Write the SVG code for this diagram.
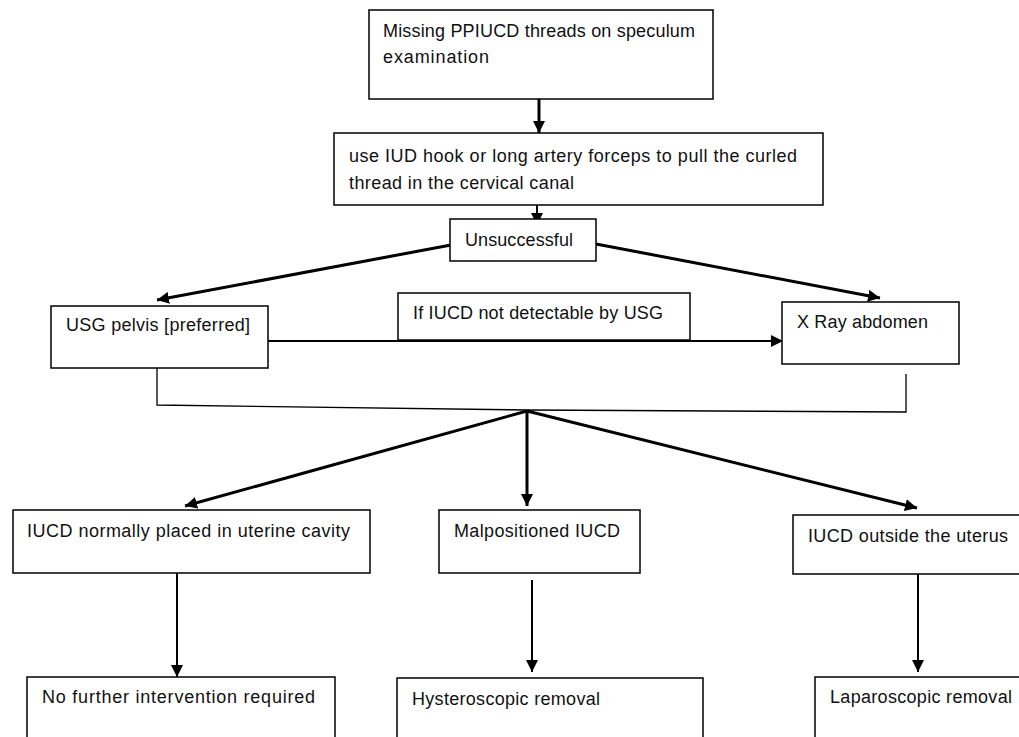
<svg xmlns="http://www.w3.org/2000/svg" width="1019" height="737" viewBox="0 0 1019 737">
<style>
.box{fill:#fff;stroke:#000;stroke-width:1.5}
.t{font-family:"Liberation Sans",Arial,sans-serif;font-size:18px;fill:#111}
.thick{stroke:#000;stroke-width:3;fill:none}
.thin{stroke:#000;stroke-width:2;fill:none}
.br{stroke:#000;stroke-width:1.3;fill:none}
</style>
<defs>
<marker id="ah" markerUnits="userSpaceOnUse" markerWidth="14" markerHeight="12" refX="12" refY="6" orient="auto">
<path d="M0,0 L12,6 L0,12 Z" fill="#000"/>
</marker>
</defs>
<rect x="0" y="0" width="1019" height="737" fill="#fff"/>
<g id="connectors">
<line class="thick" x1="539" y1="99" x2="539" y2="133" marker-end="url(#ah)"/>
<line class="thin" x1="537" y1="205" x2="537" y2="225" marker-end="url(#ah)"/>
<line class="thick" x1="451" y1="245" x2="157" y2="300" marker-end="url(#ah)"/>
<line class="thick" x1="596" y1="244" x2="880" y2="298" marker-end="url(#ah)"/>
<line class="thin" x1="268" y1="341" x2="783" y2="341" marker-end="url(#ah)"/>
<polyline class="br" points="157,368 157,405 527,410 906,412 906,374"/>
<line class="thick" x1="527" y1="411" x2="185" y2="506" marker-end="url(#ah)"/>
<line class="thick" x1="527" y1="411" x2="527" y2="506" marker-end="url(#ah)"/>
<line class="thick" x1="527" y1="411" x2="917" y2="508" marker-end="url(#ah)"/>
<line class="thin" x1="177" y1="568" x2="177" y2="677" marker-end="url(#ah)"/>
<line class="thin" x1="532" y1="580" x2="532" y2="672" marker-end="url(#ah)"/>
<line class="thin" x1="918" y1="573" x2="918" y2="672" marker-end="url(#ah)"/>
</g>
<g id="n1"><rect class="box" x="369" y="10" width="344" height="89"/>
<text class="t" x="383" y="37" textLength="312">Missing PPIUCD threads on speculum</text>
<text class="t" x="383" y="63" textLength="106">examination</text></g>
<g id="n2"><rect class="box" x="334" y="133" width="489" height="72"/>
<text class="t" x="349" y="162" textLength="448">use IUD hook or long artery forceps to pull the curled</text>
<text class="t" x="349" y="189" textLength="225">thread in the cervical canal</text></g>
<g id="n3"><rect class="box" x="450" y="219" width="146" height="42"/>
<text class="t" x="465" y="246" textLength="108">Unsuccessful</text></g>
<g id="n4"><rect class="box" x="51" y="306" width="217" height="62"/>
<text class="t" x="66" y="331" textLength="184">USG pelvis [preferred]</text></g>
<g id="n5"><rect class="box" x="398" y="293" width="292" height="47"/>
<text class="t" x="413" y="319" textLength="250">If IUCD not detectable by USG</text></g>
<g id="n6"><rect class="box" x="782" y="302" width="177" height="62"/>
<text class="t" x="797" y="328" textLength="131">X Ray abdomen</text></g>
<g id="n7"><rect class="box" x="13" y="510" width="357" height="63"/>
<text class="t" x="27" y="537" textLength="323">IUCD normally placed in uterine cavity</text></g>
<g id="n8"><rect class="box" x="439" y="510" width="201" height="63"/>
<text class="t" x="454" y="537" textLength="166">Malpositioned IUCD</text></g>
<g id="n9"><rect class="box" x="793" y="515" width="240" height="59"/>
<text class="t" x="808" y="542" textLength="200">IUCD outside the uterus</text></g>
<g id="n10"><rect class="box" x="27" y="677" width="308" height="70"/>
<text class="t" x="42" y="703" textLength="273">No further intervention required</text></g>
<g id="n11"><rect class="box" x="397" y="678" width="306" height="70"/>
<text class="t" x="412" y="705" textLength="188">Hysteroscopic removal</text></g>
<g id="n12"><rect class="box" x="815" y="677" width="230" height="70"/>
<text class="t" x="830" y="703" textLength="182">Laparoscopic removal</text></g>
</svg>
